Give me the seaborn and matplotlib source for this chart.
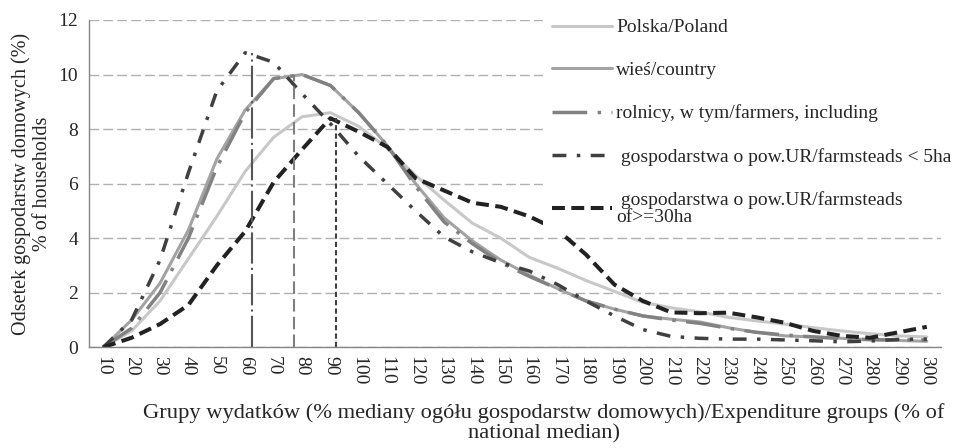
import matplotlib
matplotlib.use('Agg')
import matplotlib.pyplot as plt
import seaborn as sns

# expenditure groups (% of national median)
grupy = list(range(10, 301, 10))

# share of households (%) per group
polska = [0.0, 0.6, 1.7, 3.25, 4.8, 6.45, 7.7, 8.45, 8.6, 8.1, 7.3, 6.3, 5.4, 4.55, 4.0,
          3.3, 2.9, 2.45, 2.05, 1.65, 1.45, 1.3, 1.1, 0.97, 0.85, 0.72, 0.6, 0.5, 0.42, 0.38]
wies = [0.0, 1.0, 2.35, 4.3, 6.9, 8.7, 9.85, 10.0, 9.6, 8.6, 7.4, 6.0, 4.75, 3.9, 3.2,
        2.65, 2.15, 1.7, 1.4, 1.15, 1.03, 0.93, 0.72, 0.55, 0.42, 0.38, 0.33, 0.28, 0.25, 0.22]
rolnicy = [0.0, 0.7, 2.0, 4.0, 6.6, 8.6, 9.85, 10.0, 9.6, 8.6, 7.4, 5.9, 4.6, 3.8, 3.1,
           2.6, 2.15, 1.7, 1.4, 1.15, 1.0, 0.88, 0.7, 0.55, 0.45, 0.38, 0.32, 0.28, 0.27, 0.27]
do_5ha = [0.0, 1.0, 3.2, 6.4, 9.4, 10.8, 10.45, 9.3, 8.2, 7.0, 6.0, 5.0, 4.05, 3.5, 3.1,
          2.8, 2.3, 1.7, 1.15, 0.65, 0.4, 0.33, 0.3, 0.3, 0.27, 0.24, 0.2, 0.23, 0.29, 0.3]
od_30ha = [0.0, 0.35, 0.85, 1.55, 3.0, 4.25, 6.05, 7.25, 8.4, 7.9, 7.35, 6.2, 5.75, 5.3, 5.15,
           4.8, 4.3, 3.4, 2.3, 1.7, 1.28, 1.25, 1.27, 1.1, 0.9, 0.6, 0.42, 0.35, 0.55, 0.75]

labels = ['Polska/Poland', 'wieś/country', 'rolnicy, w tym/farmers, including',
          ' gospodarstwa o pow.UR/farmsteads < 5ha',
          ' gospodarstwa o pow.UR/farmsteads\nof>=30ha']

# modal groups marked with vertical lines (<5ha, rolnicy, >=30ha)
moda_x = [62.3, 77.3, 92.0]
moda_y = [10.8, 10.0, 8.4]

sns.set_style('white')
plt.rcParams['font.family'] = ['Liberation Serif', 'DejaVu Serif']

fig = plt.figure(figsize=(9.59, 4.48), dpi=100)
ax = fig.add_axes([89 / 959, 1 - 347.3 / 448, 852 / 959, 327.3 / 448])

styles = [
    (polska, '#c8c8c8', 2.2, '-'),
    (wies, '#a3a3a3', 2.2, '-'),
    (rolnicy, '#828282', 2.5, (0, (10, 3, 1, 3))),
    (do_5ha, '#404040', 2.5, (0, (4, 3, 1, 3))),
    (od_30ha, '#222222', 2.9, (0, (3.2, 1.6))),
]
handles = []
for values, color, lw, ls in styles:
    sns.lineplot(x=grupy, y=values, ax=ax, color=color, linewidth=lw)
    line = ax.lines[-1]
    line.set_linestyle(ls)
    handles.append(line)

# vertical markers
ax.vlines(moda_x[0], 0, moda_y[0], color='#555555', lw=1.5, linestyle=(0, (15, 2, 1, 2)))
ax.vlines(moda_x[1], 0, moda_y[1], color='#7f7f7f', lw=1.5, linestyle=(0, (6, 2.5)))
ax.vlines(moda_x[2], 0, moda_y[2], color='#404040', lw=1.5, linestyle=(0, (2.5, 1.5)))

ax.set_xlim(5, 305)
ax.set_ylim(0, 12)
ax.set_yticks(range(0, 13, 2))
ax.set_xticks(grupy)
ax.set_xticklabels([str(g) for g in grupy], rotation=-90)
ax.set_xticks(range(5, 306, 10), minor=True)
ax.tick_params(axis='x', which='major', length=0, pad=6, labelsize=14)
ax.tick_params(axis='x', which='minor', length=6, width=1, color='#868686', direction='out')
ax.tick_params(axis='y', length=5, width=1, color='#868686', direction='out', labelsize=14, pad=3)

ax.yaxis.grid(True, color='#b0b0b0', linestyle=(0, (7, 3)), linewidth=1)
ax.set_axisbelow(True)
sns.despine(ax=ax)
for s in ['left', 'bottom']:
    ax.spines[s].set_color('#868686')
    ax.spines[s].set_linewidth(1)

ax.set_ylabel('Odsetek gospodarstw domowych (%)\n% of households', fontsize=14.5, linespacing=1.2)
ax.yaxis.set_label_coords(-0.043, 0.5)
ax.set_xlabel('Grupy wydatków (% mediany ogółu gospodarstw domowych)/Expenditure groups (% of\nnational median)',
              fontsize=16.2, linespacing=1.1)
ax.xaxis.set_label_coords(0.534, -0.17)

leg = ax.legend(handles, labels, loc='upper left', bbox_to_anchor=(543 / 959, 1 - 10 / 448),
                bbox_transform=fig.transFigure, borderaxespad=0, borderpad=0.45,
                frameon=True, fontsize=14, handlelength=3.1, handletextpad=0.2,
                labelspacing=1.3)
leg.get_frame().set_facecolor('white')
leg.get_frame().set_edgecolor('none')
leg.get_frame().set_alpha(1)
leg.get_frame().set_boxstyle('square', pad=0)
for t in leg.get_texts():
    t.set_linespacing(1.0)

fig.savefig('out.png', dpi=100)
